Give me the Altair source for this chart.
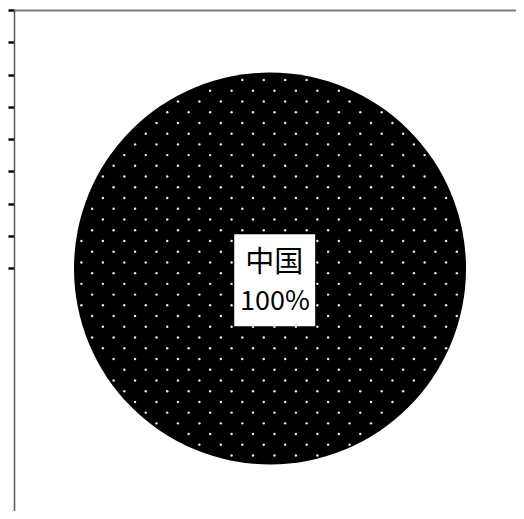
import altair as alt
import pandas as pd
import numpy as np

# ---- data ----
categories = ["中国"]
values = [100]
tick_values = [0, 1, 2, 3, 4, 5, 6, 7, 8]

# ---- layout (pixels) ----
W, H = 502, 501          # plot area
UNIT = 32.3              # px per y-axis unit
YMAX = H / UNIT
PIE_CX, PIE_CY, PIE_R = 256, 258.5, 196   # pie centre in plot coords

df = pd.DataFrame({"cat": categories, "val": values})

# dotted fill texture (decorative pattern, clipped to the pie)
def texture():
    xs, ys = [], []
    for k in range(-45, 45):
        yy = 70.0 + 10.73 * k
        off = 0.0 if k % 2 == 0 else 10.725
        for m in range(-30, 30):
            xx = 228.3 + off + 21.45 * m
            if (xx - PIE_CX) ** 2 + (yy - PIE_CY) ** 2 <= (PIE_R - 2) ** 2:
                xs.append(xx)
                ys.append(yy / UNIT)
    return pd.DataFrame({"x": xs, "y": ys})

dots_df = texture()

arc = alt.Chart(df).mark_arc(radius=PIE_R, color="black").encode(
    theta=alt.Theta("val:Q", stack=True),
    x=alt.value(PIE_CX),
    y=alt.value(PIE_CY),
)

dots = alt.Chart(dots_df).mark_circle(size=6, color="#e8e8e8", opacity=1).encode(
    x=alt.X("x:Q",
            scale=alt.Scale(domain=[0, W], nice=False, zero=False),
            axis=alt.Axis(orient="top", labels=False, ticks=False, title=None,
                          grid=False, domainColor="#7a7a7a", domainWidth=2)),
    y=alt.Y("y:Q",
            scale=alt.Scale(domain=[0, YMAX], reverse=True, nice=False, zero=False),
            axis=alt.Axis(values=tick_values, labels=False, title=None, grid=False,
                          tickSize=6, tickColor="black", tickWidth=2.5,
                          domainColor="#555555", domainWidth=1.5)),
)

box = alt.Chart(df).mark_point(
    shape="M-0.88,-1L0.88,-1L0.88,1L-0.88,1Z", size=92 * 92,
    filled=True, color="white", opacity=1, strokeWidth=0,
).encode(x=alt.value(260.7), y=alt.value(270.2))

t_cat = alt.Chart(df).mark_text(
    font="Noto Sans CJK JP", fontSize=29, color="black", baseline="middle", align="center"
).encode(text="cat:N", x=alt.value(260.2), y=alt.value(252.5))

t_pct = alt.Chart(df).transform_joinaggregate(
    total="sum(val)"
).transform_calculate(
    pct="format(datum.val / datum.total, '.0%')"
).mark_text(
    font="Noto Sans CJK JP", fontSize=27, color="black",
    baseline="middle", align="center"
).encode(text="pct:N", x=alt.value(261), y=alt.value(292))

chart = alt.layer(arc, dots, box, t_cat, t_pct).properties(
    width=W, height=H,
    autosize=alt.AutoSizeParams(type="none"),
    padding={"left": 6, "top": 2, "right": 0, "bottom": 0},
    background="white",
).configure_view(stroke=None)

chart.save("out.html", embed_options={"renderer": "svg", "actions": False})
